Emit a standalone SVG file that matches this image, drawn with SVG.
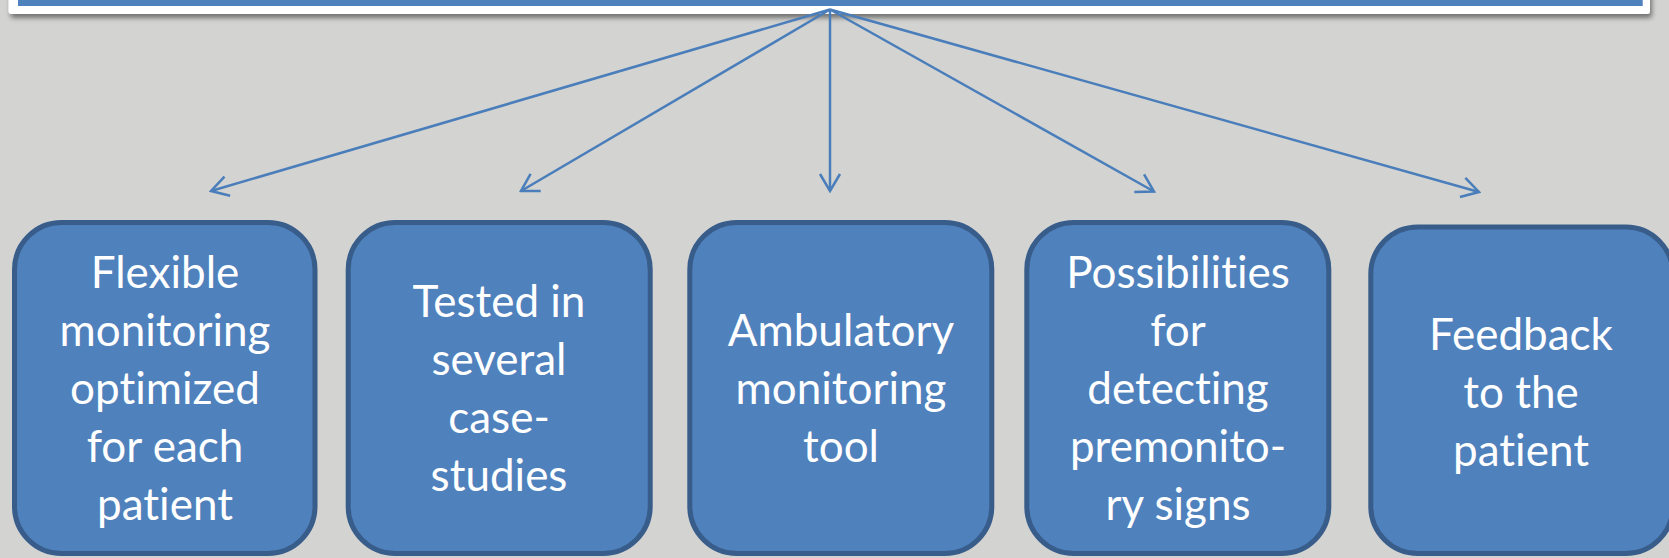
<svg xmlns="http://www.w3.org/2000/svg" width="1669" height="558" viewBox="0 0 1669 558">
<style>
.bg{fill:#d3d3d1}
.box{fill:#4f81bd;stroke:#385d8a;stroke-width:5}
.lbl{font-family:Lato,"Open Sans","Liberation Sans",sans-serif;font-size:44px;fill:#ffffff;text-anchor:middle;font-variant-ligatures:none;font-feature-settings:"liga" 0,"clig" 0,"dlig" 0}
.conn{stroke:#4a7ebb;stroke-width:2.5;fill:none;marker-end:url(#arr)}
</style>
<defs>
<marker id="arr" markerUnits="userSpaceOnUse" viewBox="-20 -12 22 24" refX="0" refY="0" markerWidth="22" markerHeight="24" orient="auto">
<path d="M-17,-10 L0,0 L-17,10" fill="none" stroke="#4a7ebb" stroke-width="2.5"/>
</marker>
<filter id="sh" x="-5%" y="-100%" width="110%" height="400%">
<feDropShadow dx="2" dy="4" stdDeviation="2.5" flood-color="#000" flood-opacity="0.45"/>
</filter>
</defs>
<rect class="bg" x="0" y="0" width="1669" height="558"/>
<g id="top">
<rect x="8.5" y="-10" width="1641.5" height="24" rx="3" fill="#ffffff" filter="url(#sh)"/>
<rect x="18" y="-10" width="1624.7" height="16" fill="#4f81bd"/>
</g>
<g id="connectors">
<line class="conn" x1="830" y1="9.5" x2="211" y2="191"/>
<line class="conn" x1="830" y1="9.5" x2="521" y2="191"/>
<line class="conn" x1="830" y1="9.5" x2="830" y2="191"/>
<line class="conn" x1="830" y1="9.5" x2="1154" y2="191.5"/>
<line class="conn" x1="830" y1="9.5" x2="1479" y2="192"/>
</g>
<g id="node1">
<rect class="box" x="14.5" y="222.5" width="300.5" height="331" rx="47"/>
<text class="lbl" x="165" y="288">Flexible</text>
<text class="lbl" x="165" y="346">monitoring</text>
<text class="lbl" x="165" y="404">optimized</text>
<text class="lbl" x="165" y="462">for each</text>
<text class="lbl" x="165" y="520">patient</text>
</g>
<g id="node2">
<rect class="box" x="348.2" y="222.5" width="302" height="331" rx="47"/>
<text class="lbl" x="499" y="317">Tested in</text>
<text class="lbl" x="499" y="375">several</text>
<text class="lbl" x="499" y="433">case-</text>
<text class="lbl" x="499" y="491">studies</text>
</g>
<g id="node3">
<rect class="box" x="689.8" y="222.5" width="302" height="331" rx="47"/>
<text class="lbl" x="841" y="346">Ambulatory</text>
<text class="lbl" x="841" y="404">monitoring</text>
<text class="lbl" x="841" y="462">tool</text>
</g>
<g id="node4">
<rect class="box" x="1026.8" y="222.5" width="302" height="331" rx="47"/>
<text class="lbl" x="1178" y="288">Possibilities</text>
<text class="lbl" x="1178" y="346">for</text>
<text class="lbl" x="1178" y="404">detecting</text>
<text class="lbl" x="1178" y="462">premonito-</text>
<text class="lbl" x="1178" y="520">ry signs</text>
</g>
<g id="node5">
<rect class="box" x="1370.8" y="227" width="302" height="326.5" rx="47"/>
<text class="lbl" x="1521" y="350">Feedback</text>
<text class="lbl" x="1521" y="408">to the</text>
<text class="lbl" x="1521" y="466">patient</text>
</g>
</svg>
